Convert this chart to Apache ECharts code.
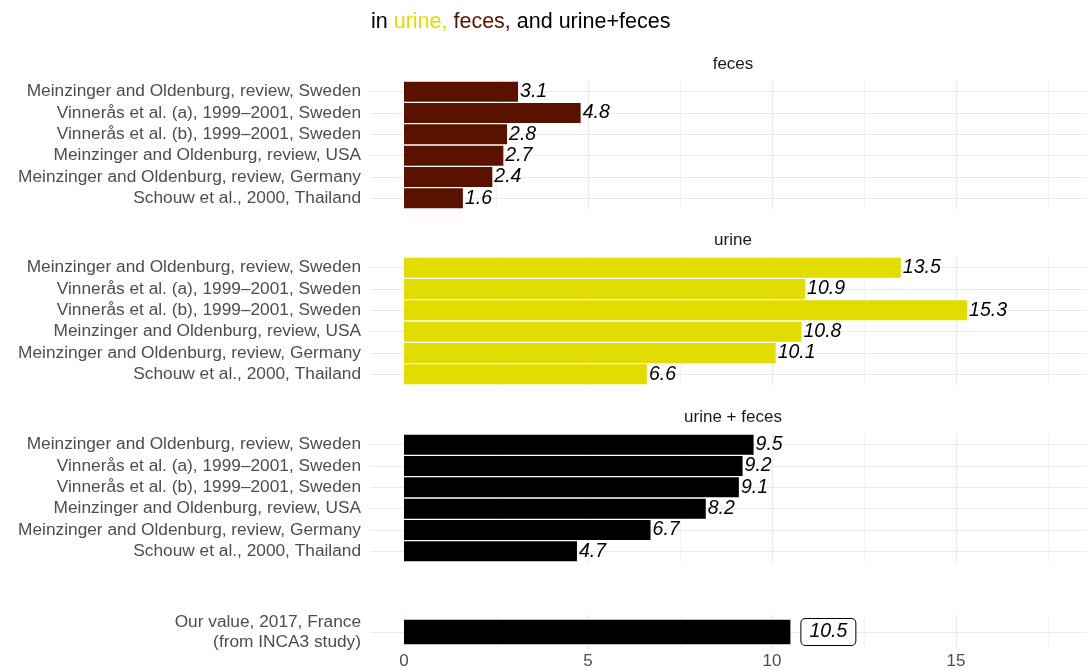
<!DOCTYPE html>
<html><head><meta charset="utf-8">
<script src="https://cdn.jsdelivr.net/npm/echarts@6/dist/echarts.min.js"></script>
<style>html,body{margin:0;padding:0;background:#fff}#c{width:1087px;height:670px}</style>
</head><body><div id="c"></div>
<script>
const studies = [
  'Meinzinger and Oldenburg, review, Sweden',
  'Vinnerås et al. (a), 1999–2001, Sweden',
  'Vinnerås et al. (b), 1999–2001, Sweden',
  'Meinzinger and Oldenburg, review, USA',
  'Meinzinger and Oldenburg, review, Germany',
  'Schouw et al., 2000, Thailand'
];
const fecesValues = [3.1, 4.8, 2.8, 2.7, 2.4, 1.6];
const urineValues = [13.5, 10.9, 15.3, 10.8, 10.1, 6.6];
const totalValues = [9.5, 9.2, 9.1, 8.2, 6.7, 4.7];
const ourCategory = ['Our value, 2017, France\n(from INCA3 study)'];
const ourValues = [10.5];
const panelNames = ['feces', 'urine', 'urine + feces', ''];
const xTicks = [0, 5, 10, 15];

const FONT = 'Liberation Sans, Arial, sans-serif';
const COL_FECES = '#5a1100';
const COL_URINE = '#e2dc00';
const GRID = '#ebebeb';

const XMIN = -0.924, XMAX = 18.56;
const panels = [
  {top: 81, height: 128, cats: studies, vals: fecesValues, color: COL_FECES, gap: '6%'},
  {top: 257, height: 128, cats: studies, vals: urineValues, color: COL_URINE, gap: '6%'},
  {top: 434, height: 128, cats: studies, vals: totalValues, color: '#000000', gap: '6%'},
  {top: 615, height: 34, cats: ourCategory, vals: ourValues, color: '#000000', gap: '28%'}
];

const grids = [], xAxes = [], yAxes = [], series = [];
panels.forEach((p, i) => {
  const last = i === panels.length - 1;
  grids.push({left: 370, width: 717, top: p.top, height: p.height, containLabel: false});
  xAxes.push({
    type: 'value', gridIndex: i, min: XMIN, max: XMAX, splitNumber: 4,
    axisLine: {show: false}, axisTick: {show: false},
    axisLabel: {
      show: last, margin: 4, color: '#4d4d4d', fontSize: 17, fontFamily: FONT,
      formatter: v => (xTicks.indexOf(Math.round(v * 1000) / 1000) >= 0 ? String(v) : ''),
      showMinLabel: false, showMaxLabel: false
    },
    splitLine: {show: true, lineStyle: {color: ['rgba(0,0,0,0)', GRID, GRID, GRID, GRID, 'rgba(0,0,0,0)'], width: 1.2}},
    minorTick: {show: false, splitNumber: 2},
    minorSplitLine: {show: true, lineStyle: {color: '#f0f0f0', width: 0.8}}
  });
  yAxes.push({
    type: 'category', gridIndex: i, data: p.cats, inverse: true,
    axisLine: {show: false}, axisTick: {show: false, interval: 0},
    axisLabel: {interval: 0, margin: 9, color: '#4d4d4d', fontSize: 17.3, fontFamily: FONT, lineHeight: 20, align: 'right'},
    splitLine: {show: true, interval: 0, alignWithLabel: true, lineStyle: {color: GRID, width: 1.2}}
  });
  const lbl = last ? {
    show: true, position: 'right', distance: 11, color: '#000', fontSize: 19.5, fontStyle: 'italic',
    fontFamily: FONT, borderColor: '#000', borderWidth: 1, borderRadius: 4, padding: [4, 8, 2, 8],
    backgroundColor: '#fff', formatter: d => d.value.toFixed(1)
  } : {
    show: true, position: 'right', distance: 2, color: '#000', fontSize: 19.5, fontStyle: 'italic',
    fontFamily: FONT, formatter: d => d.value.toFixed(1)
  };
  series.push({
    type: 'bar', xAxisIndex: i, yAxisIndex: i, data: p.vals, barCategoryGap: p.gap,
    itemStyle: {color: p.color}, label: lbl, silent: true, animation: false
  });
});

const stripY = [64, 240, 417];
const graphics = [
  {type: 'text', x: 371, y: 22, style: {
    text: '{k|in }{u|urine, }{f|feces, }{k|and urine+feces}', verticalAlign: 'middle',
    rich: {
      k: {fill: '#000', fontSize: 21.5, fontFamily: FONT},
      u: {fill: COL_URINE, fontSize: 21.5, fontFamily: FONT},
      f: {fill: COL_FECES, fontSize: 21.5, fontFamily: FONT}
    }
  }}
];
panelNames.forEach((n, i) => {
  if (!n) return;
  graphics.push({type: 'text', x: 733, y: stripY[i], style: {
    text: n, fill: '#1a1a1a', fontSize: 17, fontFamily: FONT, align: 'center', verticalAlign: 'middle'
  }});
});

const chart = echarts.init(document.getElementById('c'), null, {renderer: 'canvas'});
chart.setOption({
  animation: false,
  grid: grids, xAxis: xAxes, yAxis: yAxes, series: series, graphic: graphics
});
</script></body></html>
